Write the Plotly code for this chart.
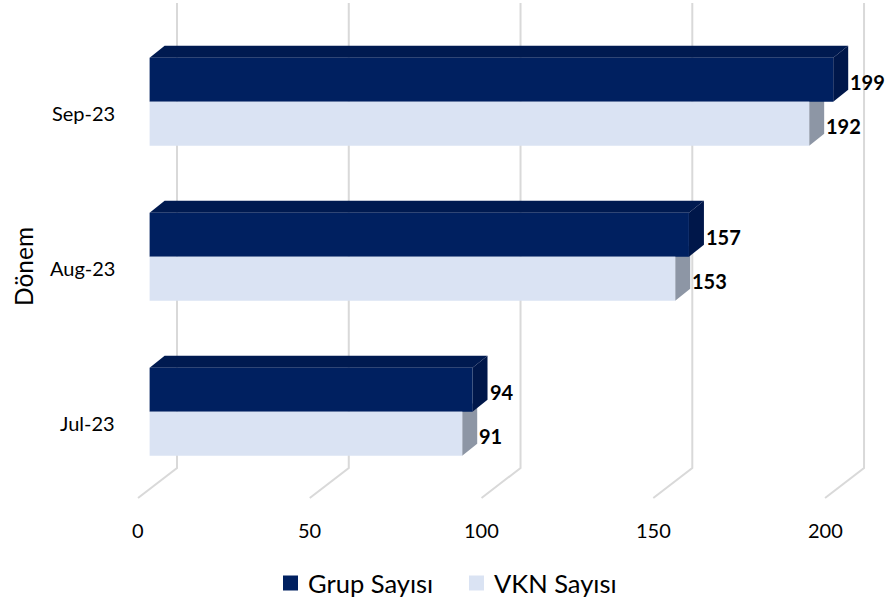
import plotly.graph_objects as go

# ---- data ----
categories = ["Jul-23", "Aug-23", "Sep-23"]
grup_sayisi = [94, 157, 199]
vkn_sayisi = [91, 153, 192]
x_ticks = [0, 50, 100, 150, 200]
series_names = ["Grup Sayısı", "VKN Sayısı"]
axis_title = "Dönem"

# ---- layout geometry ----
W, H = 889, 611
L, R, T, B = 129, 18, 0, 100
PW, PH = W - L - R, H - T - B
X0, X1 = -6, 210
SY = 155.0
Y1 = 2 + 101.7 / SY
Y0 = Y1 - PH / SY
SX = PW / (X1 - X0)

def dx(p):
    return p / SX

def dy(p):
    return p / SY

def paper_x(px):
    return (px - L) / PW

def paper_y(py):
    return (T + PH - py) / PH

def ydata(py):
    return Y1 - (py - T) / SY

FONT = "Lato, 'Open Sans', sans-serif"
C_GRUP = "#002060"
C_GRUP_TOP = "#001a50"
C_GRUP_SIDE = "#00174a"
C_VKN = "#dae3f3"
C_VKN_SIDE = "#8d96a5"
C_GRID = "#d9d9d9"
SERIES_COLORS = [C_GRUP, C_VKN]

BW = 44 / SY           # bar thickness in data units
DEPX, DEPY = 15, 12    # 3D depth of bars, pixels
pos = list(range(len(categories)))

fig = go.Figure()
fig.add_trace(go.Bar(orientation="h", y=pos, x=grup_sayisi, width=BW, offset=0,
                     marker=dict(color=C_GRUP, line=dict(width=0)), showlegend=False,
                     name=series_names[0]))
fig.add_trace(go.Bar(orientation="h", y=pos, x=vkn_sayisi, width=BW, offset=-BW,
                     marker=dict(color=C_VKN, line=dict(width=0)), showlegend=False,
                     name=series_names[1]))

shapes = []
# gridlines (back wall + floor)
for t in x_ticks:
    xb = t + dx(27.4)
    xf = t - dx(11.6)
    path = f"M {xb},{ydata(3)} L {xb},{ydata(468)} L {xf},{ydata(498)}"
    shapes.append(dict(type="path", path=path, xref="x", yref="y", layer="below",
                       line=dict(color=C_GRID, width=2)))

ddx, ddy = dx(DEPX), dy(DEPY)
for i, (g, v) in enumerate(zip(grup_sayisi, vkn_sayisi)):
    # VKN side face
    p = (f"M {v},{i} L {v+ddx},{i+ddy} L {v+ddx},{i-BW+ddy} L {v},{i-BW} Z")
    shapes.append(dict(type="path", path=p, xref="x", yref="y", layer="below",
                       fillcolor=C_VKN_SIDE, line=dict(width=0)))
    # Grup top face
    p = (f"M 0,{i+BW} L {ddx},{i+BW+ddy} L {g+ddx},{i+BW+ddy} L {g},{i+BW} Z")
    shapes.append(dict(type="path", path=p, xref="x", yref="y", layer="below",
                       fillcolor=C_GRUP_TOP, line=dict(width=0)))
    # Grup side face
    p = (f"M {g},{i+BW} L {g+ddx},{i+BW+ddy} L {g+ddx},{i+ddy} L {g},{i} Z")
    shapes.append(dict(type="path", path=p, xref="x", yref="y", layer="below",
                       fillcolor=C_GRUP_SIDE, line=dict(width=0)))

annotations = []
# data labels
for i, (g, v) in enumerate(zip(grup_sayisi, vkn_sayisi)):
    annotations.append(dict(x=g, y=i + BW / 2, xref="x", yref="y", text=f"<b>{g}</b>",
                            showarrow=False, xanchor="left", yanchor="middle",
                            xshift=DEPX, yshift=-2,
                            font=dict(family=FONT, size=20, color="#000000")))
    annotations.append(dict(x=v, y=i - BW / 2, xref="x", yref="y", text=f"<b>{v}</b>",
                            showarrow=False, xanchor="left", yanchor="middle",
                            xshift=DEPX, yshift=-2,
                            font=dict(family=FONT, size=20, color="#000000")))
# category labels
for i, c in enumerate(categories):
    annotations.append(dict(x=paper_x(117), y=i, xref="paper", yref="y", text=c,
                            showarrow=False, xanchor="right", yanchor="middle", yshift=-11,
                            font=dict(family=FONT, size=20, color="#000000")))
# x tick labels
for t in x_ticks:
    annotations.append(dict(x=t, y=paper_y(530), xref="x", yref="paper", text=str(t),
                            showarrow=False, xanchor="center", yanchor="middle", xshift=-11.6,
                            font=dict(family=FONT, size=20, color="#000000")))
# axis title
annotations.append(dict(x=paper_x(23), y=paper_y(267), xref="paper", yref="paper",
                        text=axis_title, textangle=-90, showarrow=False,
                        xanchor="center", yanchor="middle",
                        font=dict(family=FONT, size=24.5, color="#000000")))

# manual legend (square swatches + labels)
legend_sq_left = [283, 469]
legend_txt_left = [306, 492]
LEG_Y = 583
for nm, col, sx, tx in zip(series_names, SERIES_COLORS, legend_sq_left, legend_txt_left):
    shapes.append(dict(type="rect", xref="paper", yref="paper",
                       x0=paper_x(sx), x1=paper_x(sx + 15),
                       y0=paper_y(LEG_Y + 7.5), y1=paper_y(LEG_Y - 7.5),
                       fillcolor=col, line=dict(width=0)))
    annotations.append(dict(x=paper_x(tx), y=paper_y(LEG_Y), xref="paper", yref="paper",
                            text=nm, showarrow=False, xanchor="left", yanchor="middle",
                            font=dict(family=FONT, size=25.5, color="#000000")))

fig.update_layout(
    width=W, height=H, autosize=False,
    margin=dict(l=L, r=R, t=T, b=B),
    paper_bgcolor="white", plot_bgcolor="white",
    barmode="overlay",
    xaxis=dict(range=[X0, X1], showgrid=False, zeroline=False, showticklabels=False,
               showline=False, fixedrange=True),
    yaxis=dict(range=[Y0, Y1], showgrid=False, zeroline=False, showticklabels=False,
               showline=False, fixedrange=True),
    shapes=shapes,
    annotations=annotations,
    showlegend=False,
)

fig.write_html(
    "out.html",
    config={"displayModeBar": False},
    post_script="document.body.style.margin='0px';document.body.style.overflow='hidden';",
)
